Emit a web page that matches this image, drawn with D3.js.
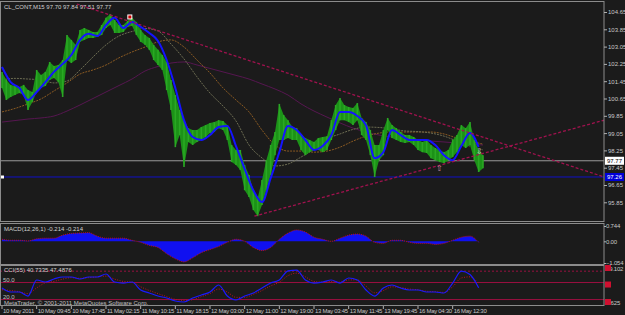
<!DOCTYPE html>
<html>
<head>
<meta charset="utf-8">
<script src="https://cdn.jsdelivr.net/npm/d3@7"></script>
<style>
  html, body { margin: 0; padding: 0; background: #1b1b1b; }
  svg { display: block; }
  text { font-family: "Liberation Sans", Arial, sans-serif; }
</style>
</head>
<body>
<div id="chart"></div>
<script>
// --- data (M15 bars, one sample every 4 bars) ---
var barStep = 4;
var priceHigh = [101.88,101.51,101.28,101.23,101.18,101.28,101.04,100.95,101.97,101.74,101.88,102.34,102.15,102.20,102.43,103.59,103.36,103.13,103.82,103.91,103.82,103.73,103.73,104.05,104.38,104.56,104.28,104.05,104.05,104.24,104.38,104.19,103.82,103.59,103.45,103.13,102.90,102.66,102.34,101.51,100.81,100.12,99.65,99.28,99.19,99.19,99.33,99.42,99.52,99.56,99.65,99.61,99.42,98.50,98.27,98.27,97.57,97.11,96.41,96.04,96.88,97.80,98.50,99.10,100.40,99.89,99.65,99.33,99.28,98.96,98.82,98.73,98.64,98.82,98.87,98.91,99.65,100.35,100.67,100.35,100.26,100.21,100.44,99.75,99.56,99.19,98.50,98.50,99.19,99.75,99.42,99.28,99.10,98.96,98.96,98.87,98.73,98.64,98.73,98.50,98.36,98.27,98.17,98.27,98.73,98.96,99.42,99.28,99.56,98.73,98.27,98.03];
var priceLow = [101.14,100.58,100.72,100.81,100.90,100.81,100.12,100.49,100.95,101.14,101.23,101.51,101.60,101.41,100.72,102.43,102.29,102.43,103.27,103.36,103.45,103.45,103.50,103.59,103.91,104.05,103.68,103.68,103.73,103.96,104.01,103.59,103.27,103.13,102.90,102.43,102.20,101.97,101.04,100.12,98.40,98.96,97.48,98.64,98.50,98.64,98.73,98.87,99.05,99.10,99.28,99.19,98.73,97.71,97.57,97.34,96.41,96.09,95.49,95.21,95.72,96.41,97.11,98.03,98.73,98.73,98.82,98.73,98.73,98.27,98.03,98.17,98.27,98.27,98.17,98.27,98.73,99.19,99.65,99.65,99.56,99.42,99.65,98.96,98.73,98.03,97.02,97.80,98.03,99.19,98.82,98.73,98.64,98.59,98.64,98.50,98.27,98.17,98.13,97.89,97.80,97.71,97.66,97.80,97.94,98.17,98.50,98.36,98.50,97.80,97.25,97.43];

// fast MA (blue), one value every 8 bars
var fastStep = 8;
var maFast = [102.11,101.41,101.14,100.58,100.95,101.41,101.88,102.25,102.66,103.36,103.64,103.54,104.05,104.38,103.91,104.19,103.96,103.68,103.31,102.43,101.14,99.65,98.87,98.73,98.96,99.33,99.38,98.45,97.39,96.41,95.86,96.97,98.17,99.38,99.19,98.73,98.27,98.45,98.96,100.02,100.02,99.84,99.42,97.89,98.17,99.19,98.96,98.73,98.73,98.73,98.50,98.03,97.80,98.45,99.05,98.40];

// slow MAs, one value every 12 bars
var slowStep = 12;
var maMid = [101.51,101.58,101.55,101.51,101.37,101.46,101.97,102.57,103.13,103.54,103.75,103.89,103.77,103.17,102.48,101.65,100.90,100.30,99.61,98.50,97.90,97.53,97.62,97.94,98.31,98.78,99.01,99.22,99.33,99.31,99.24,99.15,99.12,99.05,98.91,98.68,98.45,98.27];
var maSlow = [100.03,100.19,100.40,100.63,101.00,101.37,101.78,101.97,102.20,102.53,102.80,103.03,103.27,103.36,103.03,102.43,101.83,101.14,100.58,100.03,99.19,98.50,98.22,98.22,98.17,98.22,98.40,98.68,98.91,99.05,99.10,99.10,99.10,99.10,99.01,98.82,98.68,98.54];
var maLong = [99.56,99.63,99.70,99.75,99.84,100.07,100.35,100.65,100.95,101.25,101.55,101.92,102.13,102.29,102.34,102.20,102.04,101.88,101.72,101.55,101.32,101.09,100.81,100.40,100.07,99.79,99.52,99.28,99.10,98.96,98.87,98.78,98.73,98.68,98.64,98.59,98.54,98.50];

// MACD(12,26,1), one value every 8 bars
var macdStep = 8;
var macdValues = [0.10,0.05,0.05,0.02,0.12,0.15,0.15,0.30,0.38,0.40,0.42,0.25,0.15,0.15,0.15,0.05,-0.05,-0.20,-0.30,-0.60,-0.85,-1.00,-0.80,-0.55,-0.40,-0.25,-0.05,0.10,0.00,-0.30,-0.45,-0.30,0.10,0.40,0.55,0.45,0.20,0.10,0.00,0.15,0.30,0.35,0.25,-0.05,-0.10,0.05,0.05,-0.05,-0.10,-0.10,-0.15,-0.10,0.05,0.20,0.25,-0.05];
var macdTicks = [0.744, 0, -1.054];

// oscillator, one value every 8 bars
var oscStep = 8;
var oscMain = [40.3,33.3,33.3,26.2,54.4,50.9,56.2,59.7,59.7,56.2,59.7,59.7,65.0,50.9,49.1,50.9,36.8,31.5,26.2,22.7,17.4,15.7,22.7,28.0,33.3,45.6,26.2,19.2,26.2,31.5,40.3,49.1,54.4,70.5,72.0,54.4,49.1,50.9,54.4,49.1,58.0,54.4,36.8,26.2,40.3,45.6,40.3,36.8,36.8,33.3,33.3,31.5,49.1,70.0,64.0,40.7];
var oscSignal = [37.2,35.9,33.8,30.5,40.5,49.3,51.9,56.0,58.6,57.3,58.6,60.0,61.3,56.0,51.9,50.6,42.5,35.9,30.5,25.1,20.4,18.4,19.8,25.1,30.5,38.5,33.2,23.8,23.8,29.2,35.9,43.9,50.6,62.0,66.5,60.0,51.9,50.6,51.9,50.6,54.6,54.6,43.9,31.8,35.9,42.5,41.2,38.5,37.2,34.5,33.8,32.5,42.5,58.0,60.0,47.5];
var oscRange = [8.625, 79.102];
var oscLevels = [70, 50, 20];
var oscLevelLabels = [50, 20];

// trend lines: [bar, price] pairs
var trendTop = [[69, 105.02], [556, 97.02]];
var trendBottom = [[233, 95.21], [556, 99.65]];

var priceTicks = [104.65,103.85,103.05,102.25,101.45,100.65,99.85,99.05,98.25,97.45,96.65,95.85];
var bidPrice = 97.77;
var linePrice = 97.02;
var lineLabel = "97.26";
var timeLabels = ["10 May 2011","10 May 09:45","10 May 17:45","11 May 02:15","11 May 10:15","11 May 18:15","12 May 03:00","12 May 11:00","12 May 19:00","13 May 03:45","13 May 11:45","13 May 19:45","16 May 04:30","16 May 12:30"];
var labelEvery = 32;
var title = "CL_CONT,M15  97.70 97.84 97.51 97.77";
var macdTitle = "MACD(12,26,1) -0.214 -0.214";
var oscTitle = "CCI(55) 40.7335 47.4876";

// --- layout ---
var W = 625, H = 315;
var axisX = 604;
var mainP = {top: 2, bottom: 222};
var macdP = {top: 224, bottom: 265};
var oscP = {top: 266, bottom: 306};
var fontSize = 6;

var svg = d3.select('#chart').append('svg').attr('width', W).attr('height', H);
svg.append('rect').attr('width', W).attr('height', H).attr('fill', '#1b1b1b');

var x = d3.scaleLinear().domain([0, 444]).range([2, 483]);
var y = d3.scaleLinear().domain([96.65, 104.65]).range([185, 12]);
var yMacd = d3.scaleLinear().domain([macdTicks[2], macdTicks[0]]).range([263, 226]);
var yOsc = d3.scaleLinear().domain(oscRange).range([306, 266]);

svg.append('clipPath').attr('id', 'clipMain').append('rect')
	.attr('x', 0).attr('y', mainP.top).attr('width', axisX).attr('height', mainP.bottom - mainP.top);

var main = svg.append('g').attr('clip-path', 'url(#clipMain)');

// horizontal lines
main.append('line').attr('x1', 0).attr('x2', axisX).attr('y1', y(bidPrice)).attr('y2', y(bidPrice))
	.attr('stroke', '#9a9a9a').attr('stroke-width', 1);
main.append('line').attr('x1', 0).attr('x2', axisX).attr('y1', y(linePrice)).attr('y2', y(linePrice))
	.attr('stroke', '#1010c8').attr('stroke-width', 1);

// moving averages behind the bars
function drawMa(g, values, step, color, width, dash)
{
	var line = d3.line().curve(d3.curveMonotoneX)
		.x(function(d, i){ return x(i * step); })
		.y(function(d){ return y(d); });
	g.append('path').attr('d', line(values)).attr('fill', 'none')
		.attr('stroke', color).attr('stroke-width', width)
		.attr('stroke-dasharray', dash);
}
drawMa(main, maLong, slowStep, '#561650', 1, null);
drawMa(main, maSlow, slowStep, '#8a5a22', 1, '2,1');
drawMa(main, maMid, slowStep, '#6c6c52', 1, '2,1');

// price bars: a band between highs and lows, with a thin bar on every sample
var band = d3.area()
	.x(function(d, i){ return x(i * barStep); })
	.y0(function(d, i){ return y(priceLow[i]); })
	.y1(function(d){ return y(d); });
main.append('path').attr('d', band(priceHigh)).attr('fill', '#1c9218');
main.selectAll('line.bar').data(priceHigh).enter().append('line')
	.attr('class', 'bar')
	.attr('x1', function(d, i){ return x(i * barStep); })
	.attr('x2', function(d, i){ return x(i * barStep); })
	.attr('y1', function(d){ return y(d); })
	.attr('y2', function(d, i){ return y(priceLow[i]); })
	.attr('stroke', '#2aa824').attr('stroke-width', 1.6);

drawMa(main, maFast, fastStep, '#1414ff', 2, null);

// trend lines
[trendTop, trendBottom].forEach(function(t){
	main.append('line')
		.attr('x1', x(t[0][0])).attr('y1', y(t[0][1]))
		.attr('x2', x(t[1][0])).attr('y2', y(t[1][1]))
		.attr('stroke', '#a0124e').attr('stroke-width', 1.3).attr('stroke-dasharray', '3,2');
});

// markers
main.append('rect').attr('x', x(118) - 2).attr('y', y(104.42) - 2).attr('width', 4).attr('height', 4)
	.attr('fill', '#d00000').attr('stroke', '#ffffff').attr('stroke-width', 1);
main.append('text').attr('x', x(404)).attr('y', y(97.43) + 3).attr('text-anchor', 'middle')
	.attr('fill', '#c88ca0').attr('font-size', 8).text('⇧');
main.append('text').attr('x', x(441)).attr('y', y(98.22) + 3).attr('text-anchor', 'middle')
	.attr('fill', '#d0d0d0').attr('font-size', 8).text('⇩');
main.append('rect').attr('x', 1).attr('y', y(linePrice) - 1.5).attr('width', 3).attr('height', 3)
	.attr('fill', '#ffffff');

// --- MACD panel ---
var macdArea = d3.area().curve(d3.curveMonotoneX)
	.x(function(d, i){ return x(i * macdStep); })
	.y0(yMacd(0)).y1(function(d){ return yMacd(d); });
svg.append('path').attr('d', macdArea(macdValues)).attr('fill', '#1010f0');
var macdLine = d3.line().curve(d3.curveMonotoneX)
	.x(function(d, i){ return x(i * macdStep); }).y(function(d){ return yMacd(d); });
svg.append('path').attr('d', macdLine(macdValues)).attr('fill', 'none')
	.attr('stroke', '#c01020').attr('stroke-width', 1).attr('stroke-dasharray', '1,1');

// --- oscillator panel ---
oscLevels.forEach(function(v, i){
	svg.append('line').attr('x1', 0).attr('x2', axisX).attr('y1', yOsc(v)).attr('y2', yOsc(v))
		.attr('stroke', '#9a1040').attr('stroke-width', 1)
		.attr('stroke-dasharray', i == 0 ? '2,2' : null);
});
oscLevelLabels.forEach(function(v){
	svg.append('text').attr('x', 3).attr('y', yOsc(v) - 1).attr('fill', '#c0c0c0')
		.attr('font-size', fontSize).text(d3.format('.1f')(v));
});
var oscLine = d3.line().curve(d3.curveMonotoneX)
	.x(function(d, i){ return x(i * oscStep); }).y(function(d){ return yOsc(d); });
svg.append('path').attr('d', oscLine(oscSignal)).attr('fill', 'none')
	.attr('stroke', '#c01020').attr('stroke-width', 1).attr('stroke-dasharray', '1,1.5');
svg.append('path').attr('d', oscLine(oscMain)).attr('fill', 'none')
	.attr('stroke', '#1a1aff').attr('stroke-width', 1.2);

// --- frames ---
var frame = '#8c8c8c';
[mainP, macdP, oscP].forEach(function(p){
	svg.append('rect').attr('x', 0.5).attr('y', p.top - 0.5).attr('width', axisX - 0.5).attr('height', p.bottom - p.top)
		.attr('fill', 'none').attr('stroke', frame).attr('stroke-width', 1);
});

// --- right price axis ---
var yAxis = d3.axisRight(y).tickValues(priceTicks).tickSize(3).tickFormat(d3.format('.2f'));
var ga = svg.append('g').attr('transform', 'translate(' + axisX + ',0)').call(yAxis);
ga.select('.domain').remove();
ga.selectAll('line').attr('stroke', '#b0b0b0');
ga.selectAll('text').attr('fill', '#c8c8c8').attr('font-size', fontSize).attr('x', 4);

// price boxes
function priceBox(v, label, bg, fg)
{
	svg.append('rect').attr('x', axisX + 1).attr('y', y(v) - 4).attr('width', 19).attr('height', 8).attr('fill', bg);
	svg.append('text').attr('x', axisX + 3).attr('y', y(v) + 2.5).attr('fill', fg).attr('font-size', fontSize).text(label);
}
priceBox(bidPrice, d3.format('.2f')(bidPrice), '#ffffff', '#000000');
priceBox(linePrice, lineLabel, '#0000d8', '#ffffff');

// macd axis labels
var gm = svg.append('g').attr('transform', 'translate(' + axisX + ',0)')
	.call(d3.axisRight(yMacd).tickValues(macdTicks).tickSize(2).tickFormat(function(d){ return d == 0 ? '0.00' : d3.format('.3f')(d); }));
gm.select('.domain').remove();
gm.selectAll('line').attr('stroke', '#b0b0b0');
gm.selectAll('text').attr('fill', '#c8c8c8').attr('font-size', fontSize).attr('x', 2).attr('letter-spacing', -0.2);

// osc scale labels on the right: red boxes
var oscBoxes = [[oscRange[1], '79.102'], [50, ''], [oscRange[0], '8.625']];
oscBoxes.forEach(function(b, i){
	var by = i == 0 ? oscP.top + 2 : (i == 2 ? oscP.bottom - 4 : yOsc(b[0]) + 2);
	svg.append('text').attr('x', axisX + 2).attr('y', by + 2.5).attr('fill', '#c8c8c8')
		.attr('font-size', fontSize).attr('letter-spacing', -0.2).text(b[1]);
	svg.append('rect').attr('x', axisX + 1).attr('y', by - 3).attr('width', 6).attr('height', 6).attr('fill', '#d01030');
});

// --- time axis ---
var gt = svg.append('g');
timeLabels.forEach(function(t, i){
	var px = x(i * labelEvery);
	gt.append('line').attr('x1', px).attr('x2', px).attr('y1', oscP.bottom).attr('y2', oscP.bottom + 3)
		.attr('stroke', '#b0b0b0');
	gt.append('text').attr('x', px + 1).attr('y', 313).attr('fill', '#c8c8c8').attr('font-size', fontSize)
		.attr('letter-spacing', -0.3).text(t);
});

// --- titles ---
svg.append('text').attr('x', 4).attr('y', 9).attr('fill', '#d0d0d0').attr('font-size', fontSize).text(title);
svg.append('text').attr('x', 4).attr('y', 231).attr('fill', '#d0d0d0').attr('font-size', fontSize).text(macdTitle);
svg.append('text').attr('x', 4).attr('y', 272).attr('fill', '#d0d0d0').attr('font-size', fontSize).text(oscTitle);
svg.append('text').attr('x', 4).attr('y', 304.5).attr('fill', '#c0c0c0').attr('font-size', fontSize).text('MetaTrader, © 2001-2011 MetaQuotes Software Corp.');
</script>
</body>
</html>
